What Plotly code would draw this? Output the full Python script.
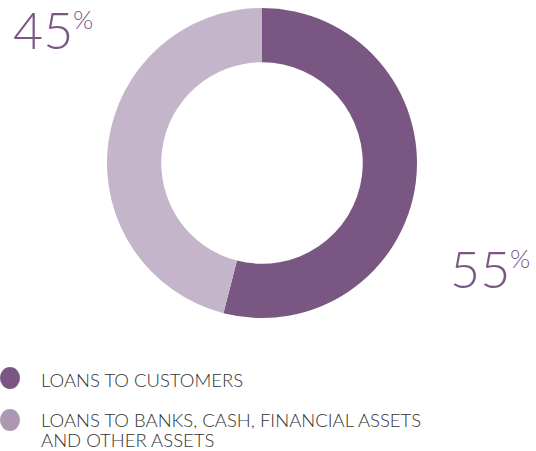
import plotly.graph_objects as go

labels = ["LOANS TO CUSTOMERS", "LOANS TO BANKS, CASH, FINANCIAL ASSETS<br>AND OTHER ASSETS"]
values = [54, 46]           # slice sizes as drawn
pct_text = ["55", "45"]     # printed labels
colors = ["#7a5783", "#c5b5ca"]
legend_colors = ["#7a5783", "#ad98b4"]

W, H = 536, 451
fig = go.Figure()

# donut geometry (pixels)
cx, cy, r = 262, 163, 155
fig.add_trace(go.Pie(
    values=values, labels=labels, hole=0.65, sort=False, direction="clockwise",
    rotation=0, marker=dict(colors=colors, line=dict(width=0)),
    textinfo="none", hoverinfo="label", showlegend=False,
    domain=dict(x=[(cx - r) / W, (cx + r) / W], y=[(H - cy - r) / H, (H - cy + r) / H]),
))

FONT = "Lato"
PURPLE = "#7a5783"

# percentage labels
pct_pos = [(448, 268), (11, 29)]  # (left x, center y) in px
for val, (px, py) in zip(pct_text, pct_pos):
    fig.add_annotation(x=px / W, y=1 - py / H, xref="paper", yref="paper", xanchor="left", yanchor="middle",
                       text=val, showarrow=False, font=dict(family=FONT, size=52, color=PURPLE, weight=300))
    fig.add_annotation(x=(px + 60) / W, y=1 - (py - 10) / H, xref="paper", yref="paper", xanchor="left", yanchor="middle",
                       text="%", showarrow=False, font=dict(family=FONT, size=26, color=PURPLE, weight=300))

# legend
leg_y = [378, 420]
text_y = [380, 420]
LINE_GAP = 20
for lab, col, ly, ty in zip(labels, legend_colors, leg_y, text_y):
    fig.add_shape(type="circle", xref="paper", yref="paper",
                  x0=(0) / W, x1=(20) / W, y0=1 - (ly + 11) / H, y1=1 - (ly - 11) / H,
                  fillcolor=col, line=dict(width=0))
    for i, line in enumerate(lab.split("<br>")):
        fig.add_annotation(x=39 / W, y=1 - (ty + i * LINE_GAP) / H, xref="paper", yref="paper",
                           xanchor="left", yanchor="middle", align="left", text=line, showarrow=False,
                           font=dict(family=FONT, size=18.5, color="#333333", weight=300))

fig.update_layout(width=W, height=H, margin=dict(l=0, r=0, t=0, b=0),
                  paper_bgcolor="white", plot_bgcolor="white")
fig.write_html("out.html", config={"displayModeBar": False},
               post_script="document.body.style.margin='0';document.body.style.overflow='hidden';")
